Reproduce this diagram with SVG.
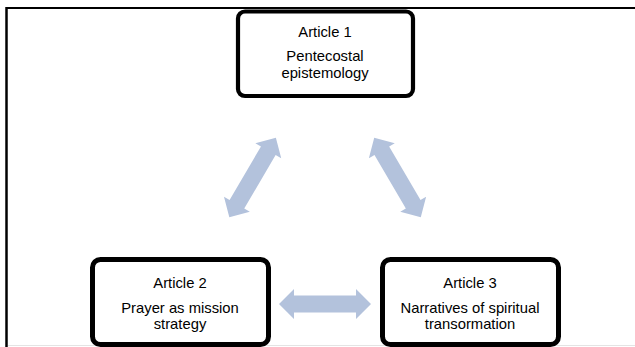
<svg xmlns="http://www.w3.org/2000/svg" width="635" height="347" viewBox="0 0 635 347">
  <style>
    .box { fill: #ffffff; stroke: #000000; }
    .t { font-family: "Liberation Sans", Arial, sans-serif; font-size: 14.8px; fill: #000000; text-anchor: middle; }
    .arr { fill: #b3c2dc; stroke: none; }
  </style>
  <defs>
    <path id="dbl" d="M -46 0 L -31 -15 L -31 -8.5 L 31 -8.5 L 31 -15 L 46 0 L 31 15 L 31 8.5 L -31 8.5 L -31 15 Z"/>
  </defs>
  <rect x="0" y="0" width="635" height="347" fill="#ffffff"/>
  <g id="frame">
    <line x1="8" y1="345.5" x2="635" y2="345.5" stroke="#e4e4e4" stroke-width="1.2"/>
    <line x1="6.5" y1="8" x2="635" y2="8" stroke="#000000" stroke-width="2.2"/>
    <line x1="6.5" y1="7" x2="6.5" y2="347" stroke="#000000" stroke-width="2.5"/>
  </g>
  <g id="connectors">
    <use href="#dbl" class="arr" transform="translate(252.6 177.5) rotate(-59.6)"/>
    <use href="#dbl" class="arr" transform="translate(397.5 177.5) rotate(59.6)"/>
    <use href="#dbl" class="arr" transform="translate(325 304)"/>
  </g>
  <g id="article1">
    <rect class="box" x="238" y="11.5" width="175" height="84.5" rx="7" stroke-width="4.2"/>
    <text class="t" x="325" y="37">Article 1</text>
    <text class="t" x="325" y="61">Pentecostal</text>
    <text class="t" x="325" y="78">epistemology</text>
  </g>
  <g id="article2">
    <rect class="box" x="92.5" y="259.5" width="176" height="85" rx="8" stroke-width="5"/>
    <text class="t" x="180" y="288">Article 2</text>
    <text class="t" x="180" y="313">Prayer as mission</text>
    <text class="t" x="180" y="329">strategy</text>
  </g>
  <g id="article3">
    <rect class="box" x="382.5" y="259.5" width="176" height="85" rx="8" stroke-width="5"/>
    <text class="t" x="470" y="288">Article 3</text>
    <text class="t" x="470" y="313">Narratives of spiritual</text>
    <text class="t" x="470" y="329">transormation</text>
  </g>
</svg>
